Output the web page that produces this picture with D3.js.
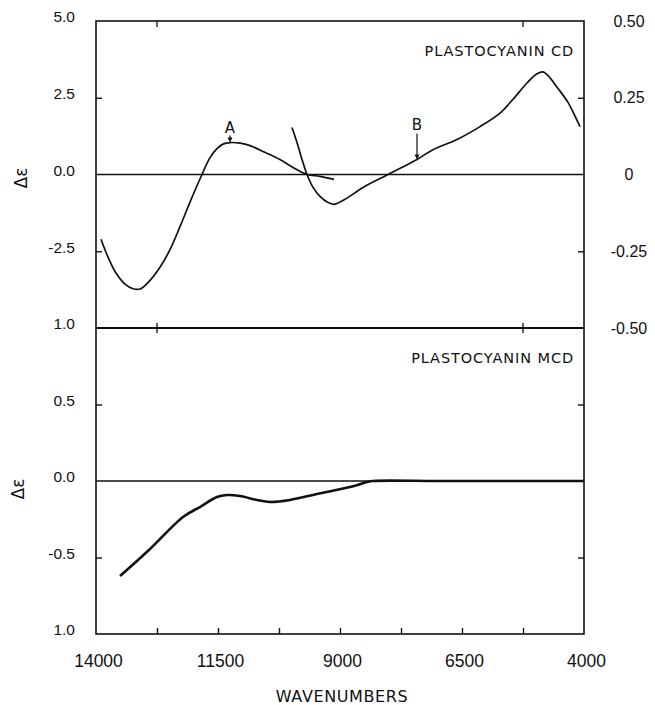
<!DOCTYPE html>
<html>
<head>
<meta charset="utf-8">
<script src="https://cdn.jsdelivr.net/npm/d3@7"></script>
<style>
  body { margin: 0; background: #fff; }
  svg { display: block; font-family: "DejaVu Sans", sans-serif; }
  .domain { display: none; }
  .tick line { stroke: #111; stroke-width: 1.4; }
  .tick text { fill: #111; }
</style>
</head>
<body>
<svg id="chart" width="655" height="705"></svg>
<script>
// wavenumber ticks (every 1250), labelled ones
var waveTicks = [14000, 12750, 11500, 10250, 9000, 7750, 6500, 5250, 4000];
var waveLabels = [14000, 11500, 9000, 6500, 4000];

// CD panel, left axis (first band) and right axis (second band)
var cdLeftTicks = [5, 2.5, 0, -2.5, -5];
var cdLeftLabels = ['5.0', '2.5', '0.0', '-2.5', '1.0'];
var cdRightTicks = [0.5, 0.25, 0, -0.25, -0.5];
var cdRightLabels = ['0.50', '0.25', '0', '-0.25', '-0.50'];

// MCD panel
var mcdTicks = [0.5, 0, -0.5, -1];
var mcdLabels = ['0.5', '0.0', '-0.5', '1.0'];

// [wavenumber, delta epsilon]
var cdBandA = [
  [13898, -2.11], [13754, -2.69], [13590, -3.21], [13406, -3.57], [13242, -3.72],
  [13098, -3.73], [12934, -3.52], [12689, -3.02], [12484, -2.45], [12279, -1.70],
  [12074, -0.90], [11828, 0], [11664, 0.55], [11521, 0.84], [11398, 0.99],
  [11254, 1.04], [11049, 1.02], [10844, 0.94], [10578, 0.75], [10230, 0.49],
  [9963, 0.23], [9676, 0], [9410, -0.06], [9123, -0.16]
];
var cdBandB = [
  [9984, 0.153], [9881, 0.104], [9779, 0.049], [9676, 0], [9553, -0.042],
  [9410, -0.071], [9246, -0.091], [9123, -0.097], [8898, -0.081], [8529, -0.042],
  [8016, 0], [7422, 0.049], [7094, 0.081], [6602, 0.114], [6131, 0.156],
  [5721, 0.200], [5455, 0.245], [5168, 0.298], [4963, 0.328], [4840, 0.334],
  [4737, 0.322], [4532, 0.280], [4328, 0.235], [4184, 0.190], [4082, 0.156]
];
var mcdCurve = [
  [13508, -0.621], [12893, -0.444], [12217, -0.235], [11869, -0.170], [11521, -0.105],
  [11316, -0.092], [11049, -0.098], [10701, -0.124], [10434, -0.137], [10025, -0.124],
  [9471, -0.085], [8795, -0.039], [8447, -0.007], [8324, 0], [7000, 0],
  [5500, 0], [4000, 0]
];

var svg = d3.select('#chart');
var plotLeft = 96, plotRight = 584, plotTop = 21, plotMid = 328, plotBottom = 634;

var x = d3.scaleLinear().domain([14000, 4000]).range([plotLeft, plotRight]);
var yCd = d3.scaleLinear().domain([-5, 5]).range([plotMid, plotTop]);
var yCdR = d3.scaleLinear().domain([-0.5, 0.5]).range([plotMid, plotTop]);
var yMcd = d3.scaleLinear().domain([-1, 1]).range([plotBottom, plotMid]);

// frame
var frame = svg.append('g').attr('stroke', '#111').attr('stroke-width', 1.6).attr('fill', 'none');
frame.append('rect').attr('x', plotLeft).attr('y', plotTop)
  .attr('width', plotRight - plotLeft).attr('height', plotBottom - plotTop);
frame.append('line').attr('x1', plotLeft).attr('x2', plotRight)
  .attr('y1', plotMid).attr('y2', plotMid).attr('stroke-width', 2.2);

// zero lines
svg.append('line').attr('x1', plotLeft).attr('x2', plotRight)
  .attr('y1', yCd(0)).attr('y2', yCd(0)).attr('stroke', '#111').attr('stroke-width', 1.4);
svg.append('line').attr('x1', plotLeft).attr('x2', plotRight)
  .attr('y1', yMcd(0)).attr('y2', yMcd(0)).attr('stroke', '#111').attr('stroke-width', 1.4);

function labelFor(ticks, labels) {
  return function(d) { return labels[ticks.indexOf(d)]; };
}

// left axis, CD
svg.append('g').attr('transform', 'translate(' + plotLeft + ',0)')
  .call(d3.axisLeft(yCd).tickValues(cdLeftTicks).tickSize(-6).tickPadding(21)
    .tickFormat(labelFor(cdLeftTicks, cdLeftLabels)))
  .call(function(g) {
    g.selectAll('text').attr('font-size', 15.5).attr('dy', '0.05em');
    g.selectAll('.tick').filter(function(d) { return d === 5 || d === 0 || d === -5; })
      .select('line').remove();
  });

// left axis, MCD
svg.append('g').attr('transform', 'translate(' + plotLeft + ',0)')
  .call(d3.axisLeft(yMcd).tickValues(mcdTicks).tickSize(-6).tickPadding(21)
    .tickFormat(labelFor(mcdTicks, mcdLabels)))
  .call(function(g) {
    g.selectAll('text').attr('font-size', 15.5).attr('dy', '0.05em');
    g.selectAll('.tick').filter(function(d) { return d === 0 || d === -1; })
      .select('line').remove();
  });

// right axis, CD
svg.append('g').attr('transform', 'translate(' + plotRight + ',0)')
  .call(d3.axisRight(yCdR).tickValues(cdRightTicks).tickSize(-6).tickPadding(45)
    .tickFormat(labelFor(cdRightTicks, cdRightLabels)))
  .call(function(g) {
    g.selectAll('text').attr('font-size', 16).attr('text-anchor', 'middle');
    g.selectAll('.tick').filter(function(d) { return Math.abs(d) !== 0.25; })
      .select('line').remove();
  });

// right ticks, MCD
svg.append('g').attr('transform', 'translate(' + plotRight + ',0)')
  .call(d3.axisRight(yMcd).tickValues([0.5, -0.5]).tickSize(-6).tickFormat(''));

// bottom axis
svg.append('g').attr('transform', 'translate(0,' + plotBottom + ')')
  .call(d3.axisBottom(x).tickValues(waveTicks).tickSize(-6).tickPadding(21)
    .tickFormat(function(d) { return waveLabels.indexOf(d) >= 0 ? d : ''; }))
  .call(function(g) {
    g.selectAll('text').attr('font-size', 17.5).attr('dx', 2);
    g.selectAll('.tick').filter(function(d) { return d === 14000 || d === 4000; })
      .select('line').remove();
  });

// minor ticks on the top border and the shared middle border
var innerTicks = [12750, 5250];
svg.append('g').selectAll('line').data(innerTicks).enter().append('line')
  .attr('x1', function(d) { return x(d); }).attr('x2', function(d) { return x(d); })
  .attr('y1', plotTop).attr('y2', plotTop + 6).attr('stroke', '#111').attr('stroke-width', 1.3);
svg.append('g').selectAll('line').data(innerTicks).enter().append('line')
  .attr('x1', function(d) { return x(d); }).attr('x2', function(d) { return x(d); })
  .attr('y1', plotMid - 5).attr('y2', plotMid + 5).attr('stroke', '#111').attr('stroke-width', 1.3);

// curves
var lineCd = d3.line().x(function(d) { return x(d[0]); }).y(function(d) { return yCd(d[1]); })
  .curve(d3.curveCatmullRom.alpha(0.5));
var lineCdR = d3.line().x(function(d) { return x(d[0]); }).y(function(d) { return yCdR(d[1]); })
  .curve(d3.curveCatmullRom.alpha(0.5));
var lineMcd = d3.line().x(function(d) { return x(d[0]); }).y(function(d) { return yMcd(d[1]); })
  .curve(d3.curveCatmullRom.alpha(0.5));

svg.append('path').datum(cdBandA).attr('d', lineCd)
  .attr('fill', 'none').attr('stroke', '#111').attr('stroke-width', 1.7);
svg.append('path').datum(cdBandB).attr('d', lineCdR)
  .attr('fill', 'none').attr('stroke', '#111').attr('stroke-width', 1.7);
svg.append('path').datum(mcdCurve).attr('d', lineMcd)
  .attr('fill', 'none').attr('stroke', '#111').attr('stroke-width', 2.6);

// band markers A and B
var markers = [
  { label: 'A', wave: 11254, y: yCd(1.04), len: 7 },
  { label: 'B', wave: 7422, y: yCdR(0.049), len: 26 }
];
var mk = svg.append('g').selectAll('g').data(markers).enter().append('g');
mk.append('line')
  .attr('x1', function(d) { return x(d.wave); }).attr('x2', function(d) { return x(d.wave); })
  .attr('y1', function(d) { return d.y - d.len; }).attr('y2', function(d) { return d.y - 3; })
  .attr('stroke', '#111').attr('stroke-width', 1.2);
mk.append('path')
  .attr('d', function(d) {
    var px = x(d.wave);
    return 'M' + (px - 2.5) + ',' + (d.y - 5) + 'L' + (px + 2.5) + ',' + (d.y - 5) + 'L' + px + ',' + d.y + 'Z';
  })
  .attr('fill', '#111');
mk.append('text')
  .attr('x', function(d) { return x(d.wave); })
  .attr('y', function(d) { return d.y - d.len - 3; })
  .attr('text-anchor', 'middle').attr('font-size', 15).attr('fill', '#111')
  .text(function(d) { return d.label; });

// panel titles
svg.append('text').attr('x', 574).attr('y', 56).attr('text-anchor', 'end')
  .attr('font-size', 14.5).attr('letter-spacing', 0.9).attr('fill', '#111')
  .text('PLASTOCYANIN  CD');
svg.append('text').attr('x', 574).attr('y', 363).attr('text-anchor', 'end')
  .attr('font-size', 14.5).attr('letter-spacing', 0.9).attr('fill', '#111')
  .text('PLASTOCYANIN  MCD');

// y titles
[[21, 178], [18, 489]].forEach(function(p) {
  svg.append('text').attr('transform', 'translate(' + p[0] + ',' + p[1] + ') rotate(-90)')
    .attr('text-anchor', 'middle').attr('dy', '0.35em').attr('font-size', 17).attr('fill', '#111')
    .text('Δε');
});

// x title
svg.append('text').attr('x', 342).attr('y', 702).attr('text-anchor', 'middle')
  .attr('font-size', 16).attr('letter-spacing', 0.6).attr('fill', '#111').text('WAVENUMBERS');
</script>
</body>
</html>
